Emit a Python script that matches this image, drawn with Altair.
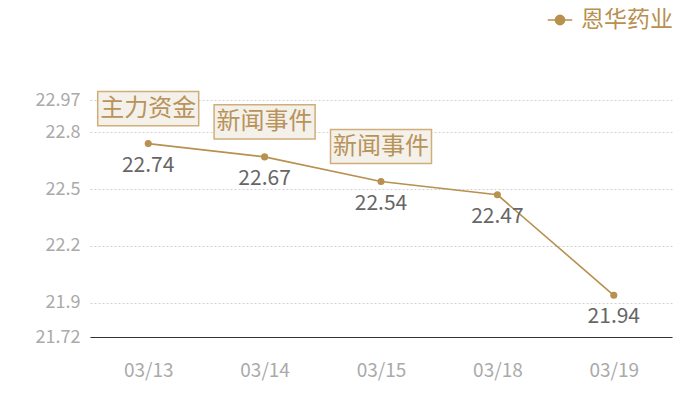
import altair as alt
import pandas as pd

dates = ["03/13", "03/14", "03/15", "03/18", "03/19"]
prices = [22.74, 22.67, 22.54, 22.47, 21.94]
notes = ["主力资金", "新闻事件", "新闻事件", "", ""]
series_name = "恩华药业"
y_ticks = [21.72, 21.9, 22.2, 22.5, 22.8, 22.97]

df = pd.DataFrame({"date": dates, "price": prices, "note": notes, "name": series_name})

GOLD = "#b8904f"
FONT = "Noto Sans CJK SC"

x = alt.X("date:N", sort=dates, title=None,
          scale=alt.Scale(type="point", padding=0.5),
          axis=alt.Axis(labelAngle=0, labelColor="#aaaaaa", labelFontSize=19,
                        labelFont=FONT, ticks=False, labelPadding=24,
                        domain=True, domainColor="#333333", domainWidth=1,
                        grid=False))
y = alt.Y("price:Q", title=None,
          scale=alt.Scale(domain=[21.72, 22.97], nice=False, zero=False),
          axis=alt.Axis(values=y_ticks, format=".4~g", labelColor="#aaaaaa", labelFontSize=18,
                        labelFont=FONT, ticks=False, domain=False, labelPadding=10,
                        grid=True, gridColor="#d0d0d0", gridDash=[2, 2], gridWidth=1,
                        labelFlush=False))

legend_path = "M-1,0L1,0M-0.38,0A0.38,0.38,0,1,0,0.38,0A0.38,0.38,0,1,0,-0.38,0Z"

line = alt.Chart(df).mark_line(strokeWidth=1.6).encode(
    x=x, y=y,
    color=alt.Color("name:N", scale=alt.Scale(range=[GOLD]),
                    legend=alt.Legend(title=None, orient="none", legendX=457, legendY=-93,
                                      symbolType=legend_path, symbolSize=600,
                                      symbolStrokeWidth=1.5, symbolFillColor=GOLD,
                                      symbolStrokeColor=GOLD,
                                      labelFont=FONT, labelFontSize=23, labelColor=GOLD,
                                      labelOffset=8))
)

pts = alt.Chart(df).mark_circle(size=50, color=GOLD, opacity=1).encode(x=x, y=y)

vals = alt.Chart(df).mark_text(dy=22, fontSize=21, font=FONT, color="#666666").encode(
    x=x, y=y, text=alt.Text("price:Q", format=".2f"))

box_path = "M-1,-0.337L1,-0.337L1,0.337L-1,0.337Z"
ann = df[df["note"] != ""]
boxes = alt.Chart(ann).mark_point(shape=box_path, size=101 * 101, filled=True,
                                  fill="#f4f0ea", stroke="#cfae7a", strokeWidth=1.5,
                                  opacity=1, fillOpacity=1, yOffset=-35).encode(x=x, y=y)
ann_text = alt.Chart(ann).mark_text(yOffset=-35, fontSize=24, font=FONT, color="#b8935a").encode(
    x=x, y=y, text="note:N")

chart = alt.layer(line, pts, vals, boxes, ann_text).properties(
    width=582, height=237,
    autosize=alt.AutoSizeParams(type="none"),
    padding={"left": 82, "top": 92, "right": 20, "bottom": 55},
).configure(font=FONT).configure_view(stroke=None)

chart.save("out.html", embed_options={"renderer": "svg", "actions": False})
